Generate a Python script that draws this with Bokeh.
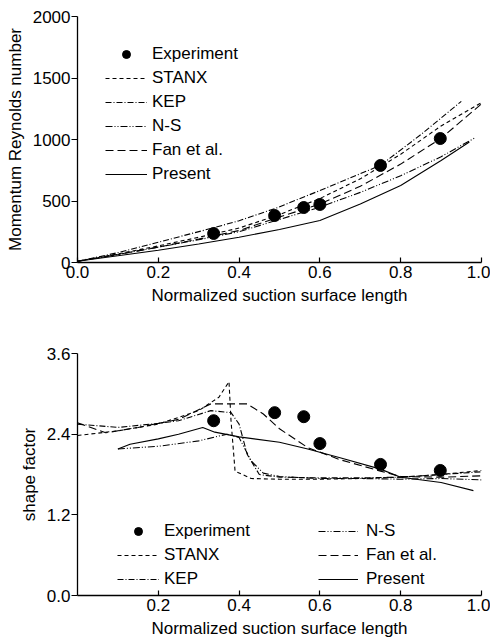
from bokeh.plotting import figure
from bokeh.layouts import column
from bokeh.models import Legend, LegendItem, FixedTicker, PrintfTickFormatter, Range1d
from bokeh.embed import file_html
from bokeh.resources import INLINE

# ---------------- data: top chart (Momentum Reynolds number) ----------------
exp_x = [0.337, 0.488, 0.56, 0.60, 0.75, 0.898]
exp_re = [236, 382, 447, 472, 789, 1008]

stanx_x = [0.0, 0.1, 0.2, 0.3, 0.4, 0.5, 0.6, 0.7, 0.8, 0.9, 1.0]
stanx_re = [10, 70, 135, 205, 280, 390, 520, 680, 880, 1110, 1300]

kep_x = [0.0, 0.1, 0.2, 0.34, 0.4, 0.49, 0.6, 0.75, 0.85, 0.95]
kep_re = [10, 80, 165, 285, 340, 440, 585, 790, 1040, 1310]

ns_x = [0.0, 0.1, 0.2, 0.3, 0.4, 0.5, 0.6, 0.7, 0.8, 0.9, 0.985]
ns_re = [10, 65, 125, 185, 250, 350, 450, 570, 705, 860, 1016]

fan_x = [0.0, 0.1, 0.2, 0.3, 0.4, 0.5, 0.6, 0.7, 0.8, 0.9, 1.0]
fan_re = [10, 65, 125, 190, 260, 370, 475, 620, 800, 1010, 1290]

pres_x = [0.0, 0.1, 0.2, 0.3, 0.4, 0.5, 0.6, 0.7, 0.8, 0.9, 0.97]
pres_re = [10, 55, 100, 150, 205, 268, 341, 475, 626, 829, 980]

re_ticks = [0, 500, 1000, 1500, 2000]
x_ticks_top = [0.0, 0.2, 0.4, 0.6, 0.8, 1.0]

# ---------------- data: bottom chart (shape factor) ----------------
exp_h = [2.60, 2.72, 2.66, 2.26, 1.95, 1.86]

stanx_hx = [0.0, 0.1, 0.2, 0.3, 0.35, 0.375, 0.38, 0.39, 0.43, 0.5, 0.6, 0.7, 0.8, 0.9, 1.0]
stanx_h = [2.38, 2.45, 2.55, 2.75, 2.95, 3.18, 2.6, 1.85, 1.74, 1.73, 1.73, 1.74, 1.76, 1.80, 1.86]

kep_hx = [0.0, 0.1, 0.2, 0.25, 0.33, 0.38, 0.40, 0.42, 0.45, 0.5, 0.6, 0.7, 0.8, 0.9, 1.0]
kep_h = [2.55, 2.5, 2.56, 2.6, 2.75, 2.72, 2.55, 2.1, 1.8, 1.76, 1.75, 1.75, 1.76, 1.8, 1.84]

ns_hx = [0.1, 0.2, 0.3, 0.37, 0.4, 0.43, 0.46, 0.5, 0.6, 0.7, 0.8, 0.9, 1.0]
ns_h = [2.18, 2.22, 2.3, 2.4, 2.35, 2.0, 1.82, 1.77, 1.74, 1.74, 1.73, 1.74, 1.72]

fan_hx = [0.0, 0.07, 0.15, 0.25, 0.33, 0.42, 0.46, 0.5, 0.57, 0.65, 0.75, 0.8, 0.9, 1.0]
fan_h = [2.57, 2.42, 2.5, 2.62, 2.85, 2.85, 2.7, 2.48, 2.2, 2.02, 1.85, 1.77, 1.76, 1.78]

pres_hx = [0.1, 0.13, 0.2, 0.25, 0.31, 0.34, 0.4, 0.5, 0.57, 0.65, 0.75, 0.8, 0.9, 0.98]
pres_h = [2.18, 2.25, 2.33, 2.4, 2.5, 2.43, 2.36, 2.28, 2.18, 2.05, 1.88, 1.76, 1.68, 1.56]

h_ticks = [0.0, 1.2, 2.4, 3.6]
x_ticks_bot = [0.2, 0.4, 0.6, 0.8, 1.0]

labels = ["Experiment", "STANX", "KEP", "N-S", "Fan et al.", "Present"]

FONT = "Liberation Sans"
FS = "17px"

styles = {
    "STANX": dict(line_dash="4 3"),
    "KEP": dict(line_dash="6 2 1 2"),
    "N-S": dict(line_dash="7 2 1 2 1 2"),
    "Fan et al.": dict(line_dash="8 4"),
    "Present": dict(line_dash="solid"),
}


def style_axes(p, xticks, yticks, yfmt):
    p.outline_line_color = None
    p.xgrid.grid_line_color = None
    p.ygrid.grid_line_color = None
    for ax in (p.xaxis[0], p.yaxis[0]):
        ax.axis_line_color = "black"
        ax.axis_line_width = 1.3
        ax.major_tick_line_color = "black"
        ax.major_tick_line_width = 1.2
        ax.minor_tick_line_color = None
        ax.major_label_text_font = FONT
        ax.major_label_text_font_size = FS
        ax.major_label_text_color = "black"
        ax.axis_label_text_font = FONT
        ax.axis_label_text_font_size = FS
        ax.axis_label_text_font_style = "normal"
        ax.axis_label_text_color = "black"
    p.xaxis[0].ticker = FixedTicker(ticks=xticks)
    p.xaxis[0].formatter = PrintfTickFormatter(format="%.1f")
    p.xaxis[0].major_tick_in = 5
    p.xaxis[0].major_tick_out = 0
    p.xaxis[0].major_label_standoff = 3
    p.xaxis[0].axis_label_standoff = 5
    p.yaxis[0].ticker = FixedTicker(ticks=yticks)
    p.yaxis[0].formatter = PrintfTickFormatter(format=yfmt)
    p.yaxis[0].major_tick_in = 0
    p.yaxis[0].major_tick_out = 6
    p.yaxis[0].major_label_standoff = 1
    p.yaxis[0].axis_label_standoff = 5


def make_legend(items, loc, gw=42, standoff=5):
    lg = Legend(items=items, location=loc)
    lg.background_fill_alpha = 0
    lg.border_line_color = None
    lg.label_text_font = FONT
    lg.label_text_font_size = FS
    lg.label_text_color = "black"
    lg.glyph_width = gw
    lg.glyph_height = 20
    lg.label_height = 20
    lg.label_standoff = standoff
    lg.spacing = 4
    lg.padding = 0
    lg.margin = 0
    return lg


# ---------------- top figure ----------------
p1 = figure(width=490, height=316, output_backend="svg", toolbar_location=None,
            x_range=Range1d(0, 1.0), y_range=Range1d(0, 2000),
            min_border_left=77, min_border_right=9, min_border_top=16, min_border_bottom=54,
            x_axis_label="Normalized suction surface length",
            y_axis_label="Momentum Reynolds number")
style_axes(p1, x_ticks_top, re_ticks, "%d")

r_exp1 = p1.scatter(exp_x, exp_re, size=12, color="black")
r1 = {}
for name, xs, ys in [("STANX", stanx_x, stanx_re), ("KEP", kep_x, kep_re), ("N-S", ns_x, ns_re),
                     ("Fan et al.", fan_x, fan_re), ("Present", pres_x, pres_re)]:
    r1[name] = p1.line(xs, ys, line_color="black", line_width=1.1, **styles[name])

items1 = [LegendItem(label=labels[0], renderers=[r_exp1])] + \
         [LegendItem(label=n, renderers=[r1[n]]) for n in labels[1:]]
p1.add_layout(make_legend(items1, (28, 78)))

# ---------------- bottom figure ----------------
p2 = figure(width=490, height=324, output_backend="svg", toolbar_location=None,
            x_range=Range1d(0, 1.0), y_range=Range1d(0, 3.6),
            min_border_left=77, min_border_right=9, min_border_top=37, min_border_bottom=45,
            x_axis_label="Normalized suction surface length",
            y_axis_label="shape factor")
style_axes(p2, x_ticks_bot, h_ticks, "%.1f")

r_exp2 = p2.scatter(exp_x, exp_h, size=12, color="black")
r2 = {}
for name, xs, ys in [("STANX", stanx_hx, stanx_h), ("KEP", kep_hx, kep_h), ("N-S", ns_hx, ns_h),
                     ("Fan et al.", fan_hx, fan_h), ("Present", pres_hx, pres_h)]:
    r2[name] = p2.line(xs, ys, line_color="black", line_width=1.1, **styles[name])

items2a = [LegendItem(label=labels[0], renderers=[r_exp2]),
           LegendItem(label=labels[1], renderers=[r2["STANX"]]),
           LegendItem(label=labels[2], renderers=[r2["KEP"]])]
items2b = [LegendItem(label=n, renderers=[r2[n]]) for n in labels[3:]]
p2.add_layout(make_legend(items2a, (40, 6)))
p2.add_layout(make_legend(items2b, (241, 6), gw=40, standoff=8))

layout = column(p1, p2, spacing=0)
open("out.html", "w").write(file_html(layout, INLINE))
